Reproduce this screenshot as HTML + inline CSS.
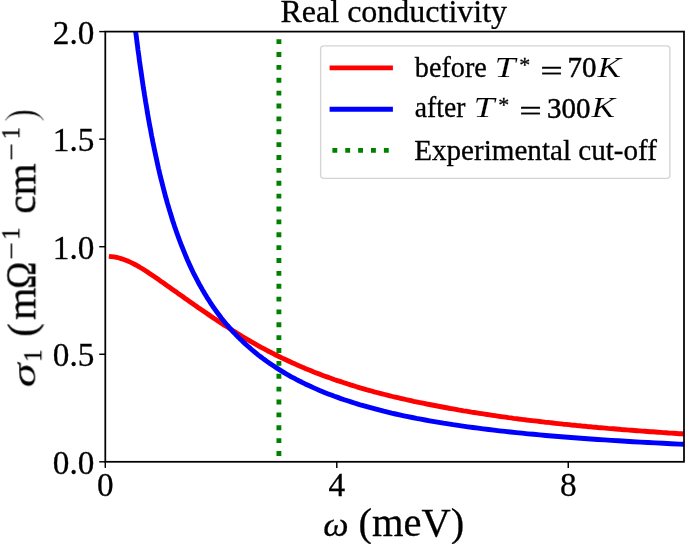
<!DOCTYPE html>
<html><head><meta charset="utf-8"><title>Real conductivity</title>
<style>html,body{margin:0;padding:0;background:#fff}svg{display:block}text{font-family:"Liberation Serif",serif;fill:#000;stroke:#000;stroke-width:.3px}.i{font-style:italic}</style></head><body>
<svg width="685" height="544" viewBox="0 0 685 544">
<rect width="685" height="544" fill="#fff"/>
<defs><clipPath id="ax"><rect x="105.3" y="31.6" width="578.7" height="430.2"/></clipPath></defs>
<g id="curves" clip-path="url(#ax)" fill="none" stroke-linejoin="round">
<path id="red" d="M111.3,256.6 L113.9,256.9 L116.6,257.4 L119.2,258.0 L121.8,258.8 L124.4,259.7 L127.1,260.7 L129.7,261.9 L132.3,263.1 L135.0,264.5 L137.6,265.9 L140.2,267.5 L142.8,269.0 L145.5,270.7 L148.1,272.4 L150.7,274.2 L153.4,276.0 L156.0,277.8 L158.6,279.6 L161.2,281.5 L163.9,283.3 L166.5,285.2 L169.1,287.0 L171.8,288.9 L174.4,290.8 L177.0,292.6 L179.6,294.5 L182.3,296.3 L184.9,298.2 L187.5,300.0 L190.2,301.9 L192.8,303.7 L195.4,305.6 L198.0,307.4 L200.7,309.2 L203.3,311.0 L205.9,312.8 L208.6,314.6 L211.2,316.4 L213.8,318.2 L216.5,319.9 L219.1,321.7 L221.7,323.4 L224.3,325.1 L227.0,326.8 L229.6,328.5 L232.2,330.2 L234.9,331.9 L237.5,333.5 L240.1,335.1 L242.7,336.7 L245.4,338.3 L248.0,339.8 L250.6,341.4 L253.3,342.9 L255.9,344.4 L258.5,345.8 L261.1,347.3 L263.8,348.7 L266.4,350.1 L269.0,351.5 L271.7,352.8 L274.3,354.2 L276.9,355.5 L279.5,356.8 L282.2,358.1 L284.8,359.3 L287.4,360.5 L290.1,361.8 L292.7,363.0 L295.3,364.1 L297.9,365.3 L300.6,366.4 L303.2,367.6 L305.8,368.7 L308.5,369.7 L311.1,370.8 L313.7,371.9 L316.3,372.9 L319.0,373.9 L321.6,374.9 L324.2,375.9 L326.9,376.9 L329.5,377.8 L332.1,378.7 L334.7,379.7 L337.4,380.6 L340.0,381.4 L342.6,382.3 L345.3,383.2 L347.9,384.0 L350.5,384.9 L353.1,385.7 L355.8,386.5 L358.4,387.3 L361.0,388.1 L363.7,388.8 L366.3,389.6 L368.9,390.3 L371.5,391.0 L374.2,391.8 L376.8,392.5 L379.4,393.2 L382.1,393.8 L384.7,394.5 L387.3,395.2 L389.9,395.8 L392.6,396.5 L395.2,397.1 L397.8,397.7 L400.5,398.3 L403.1,398.9 L405.7,399.5 L408.4,400.1 L411.0,400.7 L413.6,401.3 L416.2,401.8 L418.9,402.4 L421.5,402.9 L424.1,403.4 L426.8,404.0 L429.4,404.5 L432.0,405.0 L434.6,405.5 L437.3,406.0 L439.9,406.5 L442.5,407.0 L445.2,407.5 L447.8,408.0 L450.4,408.5 L453.0,408.9 L455.7,409.4 L458.3,409.9 L460.9,410.3 L463.6,410.8 L466.2,411.2 L468.8,411.6 L471.4,412.1 L474.1,412.5 L476.7,412.9 L479.3,413.3 L482.0,413.7 L484.6,414.1 L487.2,414.5 L489.8,414.9 L492.5,415.3 L495.1,415.7 L497.7,416.1 L500.4,416.5 L503.0,416.8 L505.6,417.2 L508.2,417.6 L510.9,417.9 L513.5,418.3 L516.1,418.6 L518.8,419.0 L521.4,419.3 L524.0,419.6 L526.6,420.0 L529.3,420.3 L531.9,420.6 L534.5,420.9 L537.2,421.2 L539.8,421.5 L542.4,421.8 L545.0,422.2 L547.7,422.4 L550.3,422.7 L552.9,423.0 L555.6,423.3 L558.2,423.6 L560.8,423.9 L563.4,424.2 L566.1,424.4 L568.7,424.7 L571.3,425.0 L574.0,425.2 L576.6,425.5 L579.2,425.7 L581.8,426.0 L584.5,426.2 L587.1,426.5 L589.7,426.7 L592.4,427.0 L595.0,427.2 L597.6,427.5 L600.3,427.7 L602.9,427.9 L605.5,428.1 L608.1,428.4 L610.8,428.6 L613.4,428.8 L616.0,429.0 L618.7,429.2 L621.3,429.5 L623.9,429.7 L626.5,429.9 L629.2,430.1 L631.8,430.3 L634.4,430.5 L637.1,430.7 L639.7,430.9 L642.3,431.1 L644.9,431.3 L647.6,431.5 L650.2,431.7 L652.8,431.8 L655.5,432.0 L658.1,432.2 L660.7,432.4 L663.3,432.6 L666.0,432.8 L668.6,433.0 L671.2,433.1 L673.9,433.3 L676.5,433.5 L679.1,433.7 L681.7,433.8 L684.4,434.0 L687.0,434.2" stroke="#ff0000" stroke-width="4.87" stroke-linecap="square"/>
<path id="blue" d="M133.0,9.5 L133.4,12.8 L133.8,16.2 L134.2,19.5 L134.6,22.9 L135.0,26.2 L135.4,29.6 L135.8,33.0 L136.3,36.4 L136.7,39.8 L137.1,43.2 L137.6,46.7 L138.0,50.1 L138.5,53.5 L139.0,57.0 L139.4,60.4 L139.9,63.9 L140.4,67.3 L140.9,70.7 L141.4,74.2 L141.9,77.6 L142.4,81.1 L142.9,84.5 L143.4,88.0 L144.0,91.4 L144.5,94.9 L145.1,98.3 L145.6,101.7 L146.2,105.2 L146.8,108.6 L147.3,112.0 L147.9,115.4 L148.5,118.8 L149.1,122.2 L149.7,125.6 L150.4,128.9 L151.0,132.3 L151.6,135.7 L152.3,139.0 L152.9,142.3 L153.6,145.6 L154.3,148.9 L155.0,152.2 L155.7,155.5 L156.4,158.8 L157.1,162.0 L157.8,165.3 L158.5,168.5 L159.3,171.7 L160.0,174.9 L160.8,178.1 L161.6,181.2 L162.4,184.4 L163.2,187.5 L164.0,190.6 L164.8,193.7 L165.6,196.8 L166.5,199.8 L167.3,202.9 L168.2,205.9 L169.1,208.9 L170.0,211.9 L170.9,214.8 L171.8,217.8 L172.7,220.7 L173.7,223.6 L174.6,226.5 L175.6,229.3 L176.6,232.2 L177.6,235.0 L178.6,237.8 L179.6,240.5 L180.7,243.3 L181.7,246.0 L182.8,248.7 L183.9,251.4 L185.0,254.1 L186.1,256.7 L187.2,259.4 L188.4,262.0 L189.5,264.6 L190.7,267.1 L191.9,269.7 L193.1,272.2 L194.3,274.7 L195.6,277.1 L196.9,279.6 L198.1,282.0 L199.4,284.4 L200.8,286.8 L202.1,289.2 L203.5,291.5 L204.8,293.8 L206.2,296.1 L207.6,298.4 L209.1,300.6 L210.5,302.9 L212.0,305.1 L213.5,307.3 L215.0,309.4 L216.5,311.6 L218.1,313.7 L219.7,315.8 L221.3,317.9 L222.9,319.9 L224.5,321.9 L226.2,324.0 L227.9,325.9 L229.6,327.9 L231.4,329.9 L233.1,331.8 L234.9,333.7 L236.7,335.6 L238.6,337.4 L240.4,339.3 L242.3,341.1 L244.2,342.9 L246.2,344.7 L248.2,346.5 L250.2,348.2 L252.2,350.0 L254.2,351.7 L256.3,353.4 L258.4,355.1 L260.6,356.7 L262.8,358.4 L265.0,360.0 L267.2,361.6 L269.5,363.2 L271.8,364.8 L274.1,366.3 L276.5,367.9 L278.9,369.4 L281.3,370.9 L283.7,372.4 L286.2,373.9 L288.8,375.3 L291.3,376.8 L294.0,378.2 L296.6,379.6 L299.3,381.0 L302.0,382.3 L304.7,383.7 L307.5,385.0 L310.4,386.3 L313.2,387.6 L316.1,388.9 L319.1,390.2 L322.1,391.4 L325.1,392.7 L328.2,393.9 L331.3,395.1 L334.5,396.3 L337.7,397.4 L340.9,398.6 L344.2,399.7 L347.6,400.8 L351.0,401.9 L354.4,403.0 L357.9,404.1 L361.4,405.2 L365.0,406.2 L368.7,407.2 L372.4,408.2 L376.1,409.2 L379.9,410.2 L383.7,411.2 L387.6,412.1 L391.6,413.1 L395.6,414.0 L399.6,414.9 L403.8,415.8 L407.9,416.6 L412.2,417.5 L416.5,418.4 L420.8,419.2 L425.3,420.0 L429.7,420.8 L434.3,421.6 L438.9,422.4 L443.5,423.2 L448.3,423.9 L453.1,424.7 L458.0,425.4 L462.9,426.1 L467.9,426.8 L473.0,427.5 L478.1,428.2 L483.3,428.9 L488.6,429.5 L494.0,430.2 L499.4,430.8 L505.0,431.4 L510.6,432.0 L516.2,432.6 L522.0,433.2 L527.8,433.8 L533.7,434.3 L539.7,434.9 L545.8,435.5 L552.0,436.0 L558.2,436.5 L564.6,437.0 L571.0,437.5 L577.5,438.0 L584.1,438.5 L590.8,439.0 L597.6,439.5 L604.5,439.9 L611.5,440.4 L618.6,440.8 L625.8,441.3 L633.1,441.7 L640.4,442.1 L647.9,442.5 L655.5,442.9 L663.2,443.3 L671.0,443.7 L679.0,444.1 L687.0,444.4" stroke="#0000ff" stroke-width="4.87" stroke-linecap="square"/>
<line id="green" x1="278.9" y1="455.94" x2="278.9" y2="20" stroke="#008000" stroke-width="4.87" stroke-dasharray="4.87 8.00"/>
</g>
<g id="ticks" stroke="#000" stroke-width="1.45">
<line x1="99.2" y1="461.80" x2="105.3" y2="461.80"/>
<line x1="99.2" y1="354.25" x2="105.3" y2="354.25"/>
<line x1="99.2" y1="246.70" x2="105.3" y2="246.70"/>
<line x1="99.2" y1="139.15" x2="105.3" y2="139.15"/>
<line x1="99.2" y1="31.60" x2="105.3" y2="31.60"/>
<line x1="105.30" y1="461.8" x2="105.30" y2="467.9"/>
<line x1="336.78" y1="461.8" x2="336.78" y2="467.9"/>
<line x1="568.26" y1="461.8" x2="568.26" y2="467.9"/>
</g>
<rect id="spines" x="105.3" y="31.6" width="578.7" height="430.2" fill="none" stroke="#000" stroke-width="1.75"/>
<rect id="legbox" x="320.6" y="45.8" width="349.3" height="132.5" rx="3.4" fill="#fff" fill-opacity="0.8" stroke="#cccccc" stroke-opacity="0.85" stroke-width="1.35"/>
<g id="leglines" stroke-width="4.87" fill="none">
<line x1="329.6" y1="67.9" x2="392.9" y2="67.9" stroke="#ff0000"/>
<line x1="329.6" y1="109.2" x2="392.9" y2="109.2" stroke="#0000ff"/>
<line x1="332.4" y1="150.4" x2="392.9" y2="150.4" stroke="#008000" stroke-dasharray="4.87 8.00"/>
</g>
<g style="mix-blend-mode:multiply">
<text id="yt0" transform="translate(94.40,474.00) scale(1.02,1.04)" font-size="32.6" text-anchor="end">0.0</text>
<text id="yt1" transform="translate(94.40,366.45) scale(1.02,1.04)" font-size="32.6" text-anchor="end">0.5</text>
<text id="yt2" transform="translate(94.40,258.90) scale(1.02,1.04)" font-size="32.6" text-anchor="end">1.0</text>
<text id="yt3" transform="translate(94.40,151.35) scale(1.02,1.04)" font-size="32.6" text-anchor="end">1.5</text>
<text id="yt4" transform="translate(94.40,43.80) scale(1.02,1.04)" font-size="32.6" text-anchor="end">2.0</text>
<text id="xt0" transform="translate(105.30,495.80) scale(1.02,1.04)" font-size="32.6" text-anchor="middle">0</text>
<text id="xt1" transform="translate(336.78,495.80) scale(1.02,1.04)" font-size="32.6" text-anchor="middle">4</text>
<text id="xt2" transform="translate(568.26,495.80) scale(1.02,1.04)" font-size="32.6" text-anchor="middle">8</text>
<text id="title" x="393.80" y="21.50" font-size="32.0" text-anchor="middle">Real conductivity</text>
<text id="xl_w" class="i" transform="translate(323.30,536.40) scale(1.04,1)" font-size="34.5" text-anchor="start">ω</text>
<text id="xl_u" x="358.60" y="536.40" font-size="40.5" text-anchor="start">(meV)</text>
<g transform="translate(35.3,386.3) rotate(-90)">
<text id="yl_s" class="i" transform="translate(-1.00,0.00) scale(1.2,0.83)" font-size="40.5" text-anchor="start" style="stroke-width:0px">σ</text>
<text id="yl_1" x="24.50" y="6.40" font-size="24.5" text-anchor="start">1</text>
<text id="yl_p" x="49.50" y="0.00" font-size="40.5" text-anchor="start">(</text>
<text id="yl_m" transform="translate(66.30,0.00) scale(1.03,1)" font-size="40.5" text-anchor="start">m</text>
<text id="yl_O" transform="translate(97.60,0.00) scale(0.9,1.03)" font-size="40.5" text-anchor="start">Ω</text>
<text id="yl_n1" transform="translate(126.60,-15.40) scale(1.15,1)" font-size="27" text-anchor="start">−</text>
<text id="yl_e1" x="146.50" y="-15.90" font-size="24.5" text-anchor="start">1</text>
<text id="yl_cm" transform="translate(172.50,0.00) scale(1.02,1)" font-size="40.5" text-anchor="start">cm</text>
<text id="yl_n2" transform="translate(225.60,-15.40) scale(1.15,1)" font-size="27" text-anchor="start">−</text>
<text id="yl_e2" x="247.00" y="-15.90" font-size="24.5" text-anchor="start">1</text>
<text id="yl_q" transform="translate(264.20,0.00) scale(1,1.1)" font-size="40.5" text-anchor="start" style="stroke:#fff;stroke-width:0.9px">)</text>
</g>
<text id="l1a" transform="translate(414.80,77.20) scale(0.975,1)" font-size="28.95" text-anchor="start">before</text>
<text id="l1T" class="i" transform="translate(494.50,77.20) scale(1.3,1)" font-size="28.95" text-anchor="start" style="stroke:#fff;stroke-width:0.15px">T</text>
<text id="l1s" x="519.20" y="71.70" font-size="22" text-anchor="start">*</text>
<text id="l1e" transform="translate(540.30,80.90) scale(1.38,1)" font-size="28.95" text-anchor="start">=</text>
<text id="l1n" transform="translate(567.50,77.40) scale(1,1.04)" font-size="28.95" text-anchor="start" style="stroke-width:0.45px">70</text>
<text id="l1K" class="i" transform="translate(597.60,77.20) scale(1.22,1)" font-size="28.95" text-anchor="start" style="stroke:#fff;stroke-width:0.15px">K</text>
<text id="l2a" transform="translate(414.80,117.40) scale(0.955,1)" font-size="28.95" text-anchor="start">after</text>
<text id="l2T" class="i" transform="translate(473.50,117.40) scale(1.3,1)" font-size="28.95" text-anchor="start" style="stroke:#fff;stroke-width:0.15px">T</text>
<text id="l2s" x="498.20" y="111.90" font-size="22" text-anchor="start">*</text>
<text id="l2e" transform="translate(519.30,121.10) scale(1.38,1)" font-size="28.95" text-anchor="start">=</text>
<text id="l2n" transform="translate(547.00,117.60) scale(1,1.04)" font-size="28.95" text-anchor="start" style="stroke-width:0.45px">300</text>
<text id="l2K" class="i" transform="translate(591.40,117.40) scale(1.22,1)" font-size="28.95" text-anchor="start" style="stroke:#fff;stroke-width:0.15px">K</text>
<text id="l3" transform="translate(414.20,160.20) scale(1.006,1)" font-size="28.95" text-anchor="start">Experimental cut-off</text>
</g>
</svg></body></html>
